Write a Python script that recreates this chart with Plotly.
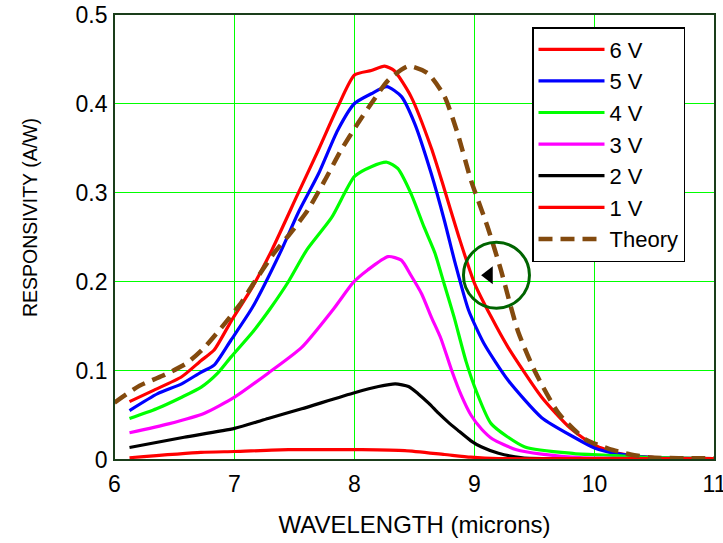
import plotly.graph_objects as go

# Measured responsivity curves (wavelength in microns, responsivity in A/W)
x_6v = [6.125, 6.33, 6.56, 6.72, 6.83, 6.97, 7.15, 7.31, 7.53, 7.70, 7.86, 8.00, 8.14, 8.25,
        8.33, 8.47, 8.64, 8.73, 8.87, 9.00, 9.14, 9.28, 9.56, 9.80, 10.0, 10.2, 10.5, 11.0]
y_6v = [0.065, 0.078, 0.093, 0.111, 0.123, 0.155, 0.194, 0.235, 0.299, 0.348, 0.396, 0.432, 0.437, 0.442,
        0.437, 0.408, 0.350, 0.312, 0.250, 0.198, 0.160, 0.126, 0.070, 0.035, 0.016, 0.007, 0.002, 0.001]

x_5v = [6.125, 6.36, 6.56, 6.72, 6.83, 6.97, 7.15, 7.39, 7.53, 7.70, 7.86, 8.00, 8.14, 8.27,
        8.39, 8.50, 8.64, 8.75, 8.84, 8.95, 9.08, 9.28, 9.56, 9.83, 10.0, 10.17, 10.5, 11.0]
y_5v = [0.055, 0.074, 0.085, 0.098, 0.106, 0.134, 0.171, 0.235, 0.277, 0.321, 0.370, 0.400, 0.411, 0.419,
        0.408, 0.378, 0.321, 0.268, 0.220, 0.168, 0.130, 0.089, 0.047, 0.025, 0.013, 0.007, 0.002, 0.001]

x_4v = [6.125, 6.35, 6.56, 6.72, 6.86, 6.97, 7.15, 7.30, 7.45, 7.60, 7.81, 8.00, 8.14, 8.27,
        8.36, 8.47, 8.58, 8.67, 8.75, 8.83, 8.93, 9.02, 9.14, 9.42, 9.83, 10.17, 10.5, 11.0]
y_4v = [0.046, 0.057, 0.070, 0.081, 0.097, 0.115, 0.143, 0.170, 0.200, 0.235, 0.272, 0.318, 0.329, 0.334,
        0.327, 0.299, 0.261, 0.232, 0.196, 0.160, 0.110, 0.075, 0.040, 0.014, 0.0067, 0.0045, 0.002, 0.001]

x_3v = [6.125, 6.45, 6.75, 7.00, 7.28, 7.56, 7.83, 7.99, 8.11, 8.28, 8.39, 8.47, 8.56, 8.64,
        8.72, 8.81, 8.89, 8.97, 9.06, 9.15, 9.35, 9.56, 9.88, 10.5, 11.0]
y_3v = [0.030, 0.040, 0.052, 0.070, 0.097, 0.126, 0.170, 0.199, 0.213, 0.228, 0.224, 0.207, 0.186, 0.160,
        0.136, 0.100, 0.072, 0.050, 0.034, 0.023, 0.011, 0.006, 0.002, 0.001, 0.001]

x_2v = [6.125, 6.58, 7.00, 7.28, 7.56, 8.00, 8.20, 8.34, 8.45, 8.53, 8.62, 8.70, 8.78, 8.86,
        8.97, 9.06, 9.20, 9.40, 9.70, 10.5, 11.0]
y_2v = [0.0135, 0.025, 0.035, 0.046, 0.057, 0.075, 0.082, 0.085, 0.082, 0.074, 0.063, 0.052, 0.042, 0.033,
        0.021, 0.014, 0.007, 0.002, 0.001, 0.001, 0.001]

x_1v = [6.125, 6.72, 7.00, 7.45, 8.06, 8.42, 8.75, 8.97, 9.20, 10.0, 11.0]
y_1v = [0.002, 0.008, 0.009, 0.011, 0.011, 0.010, 0.0056, 0.0026, 0.001, 0.001, 0.001]

x_theory = [6.00, 6.21, 6.40, 6.60, 6.75, 6.92, 7.06, 7.15, 7.33, 7.47, 7.61, 7.75, 7.89, 8.03,
            8.14, 8.28, 8.45, 8.61, 8.75, 8.86, 8.97, 9.11, 9.22, 9.36, 9.50, 9.70, 9.92, 10.12,
            10.30, 10.47, 10.70, 11.0]
y_theory = [0.064, 0.083, 0.094, 0.108, 0.126, 0.153, 0.177, 0.196, 0.232, 0.255, 0.280, 0.313, 0.348, 0.378,
            0.400, 0.426, 0.442, 0.434, 0.408, 0.366, 0.314, 0.261, 0.213, 0.145, 0.100, 0.052, 0.023, 0.012,
            0.0056, 0.0022, 0.0015, 0.0015]

series = [
    ("6 V", x_6v, y_6v, "#ff0000"),
    ("5 V", x_5v, y_5v, "#0000ff"),
    ("4 V", x_4v, y_4v, "#00ff00"),
    ("3 V", x_3v, y_3v, "#ff00ff"),
    ("2 V", x_2v, y_2v, "#000000"),
    ("1 V", x_1v, y_1v, "#ff0000"),
]

x_ticks = [6, 7, 8, 9, 10, 11]
y_ticks = [0, 0.1, 0.2, 0.3, 0.4, 0.5]
y_tick_text = ["0", "0.1", "0.2", "0.3", "0.4", "0.5"]

# Highlight ring and pointer near the theory curve
ring_center = (9.183, 0.207)
ring_radius = (0.275, 0.037)
pointer_pos = (9.12, 0.207)

FONT = "Liberation Sans, Arial, sans-serif"
GRID = "#00ff00"
FRAME = "#1a3d1a"

# Plot area sizes; half-pixel domain insets keep the 1 px grid lines crisp
PLOT_L, PLOT_T = 114, 14
PLOT_W, PLOT_H = 601, 446
X_DOMAIN = [0.5 / PLOT_W, (PLOT_W - 0.5) / PLOT_W]
Y_DOMAIN = [0.5 / PLOT_H, (PLOT_H - 0.5) / PLOT_H]

fig = go.Figure()

for name, xs, ys, color in series:
    fig.add_trace(go.Scatter(x=xs, y=ys, mode="lines", name=name,
                             line=dict(color=color, width=3.2, shape="spline", smoothing=0.6)))

fig.add_trace(go.Scatter(x=x_theory, y=y_theory, mode="lines", name="Theory",
                         line=dict(color="#834a0e", width=4.5, dash="14px,8px",
                                   shape="spline", smoothing=0.6)))

fig.add_trace(go.Scatter(x=[pointer_pos[0]], y=[pointer_pos[1]], mode="markers",
                         showlegend=False, hoverinfo="skip",
                         marker=dict(symbol="triangle-left", size=15.5, color="black")))

fig.add_shape(type="circle", xref="x", yref="y",
              x0=ring_center[0] - ring_radius[0], x1=ring_center[0] + ring_radius[0],
              y0=ring_center[1] - ring_radius[1], y1=ring_center[1] + ring_radius[1],
              line=dict(color="#006400", width=3))

# plot frame
fig.add_shape(type="rect", xref="paper", yref="paper", x0=0, x1=1, y0=0, y1=1,
              line=dict(color=FRAME, width=2), layer="above")

# vertical axis title
fig.add_annotation(text="RESPONSIVITY (A/W)", textangle=-90, showarrow=False,
                   xref="paper", yref="paper", x=-84 / PLOT_W, y=(PLOT_T + PLOT_H - 218) / PLOT_H,
                   xanchor="center", yanchor="middle",
                   font=dict(family=FONT, size=19.5, color="black"))

fig.update_layout(
    width=723, height=543,
    margin=dict(l=PLOT_L, r=723 - PLOT_L - PLOT_W, t=PLOT_T, b=543 - PLOT_T - PLOT_H),
    paper_bgcolor="white", plot_bgcolor="white",
    font=dict(family=FONT, size=23, color="black"),
    showlegend=True,
    legend=dict(x=(532 - PLOT_L) / PLOT_W, y=(PLOT_T + PLOT_H - 27) / PLOT_H,
                xanchor="left", yanchor="top",
                bgcolor="white", bordercolor="black", borderwidth=1.5,
                font=dict(family=FONT, size=22), itemwidth=66,
                tracegroupgap=0),
)

fig.update_xaxes(range=[6, 11], domain=X_DOMAIN, tickvals=x_ticks, ticks="", showgrid=True,
                 gridcolor=GRID, gridwidth=1, zeroline=False, automargin=False,
                 showline=False, ticklabeloverflow="allow",
                 tickfont=dict(family=FONT, size=23), ticklabelstandoff=8,
                 title=dict(text="WAVELENGTH (microns)", font=dict(family=FONT, size=24),
                            standoff=20))

fig.update_yaxes(range=[0, 0.5], domain=Y_DOMAIN, tickvals=y_ticks, ticktext=y_tick_text,
                 ticks="", showgrid=True, gridcolor=GRID, gridwidth=1, zeroline=False,
                 automargin=False, showline=False, ticklabeloverflow="allow",
                 tickfont=dict(family=FONT, size=23), ticklabelstandoff=6)

fig.write_html("out.html")
